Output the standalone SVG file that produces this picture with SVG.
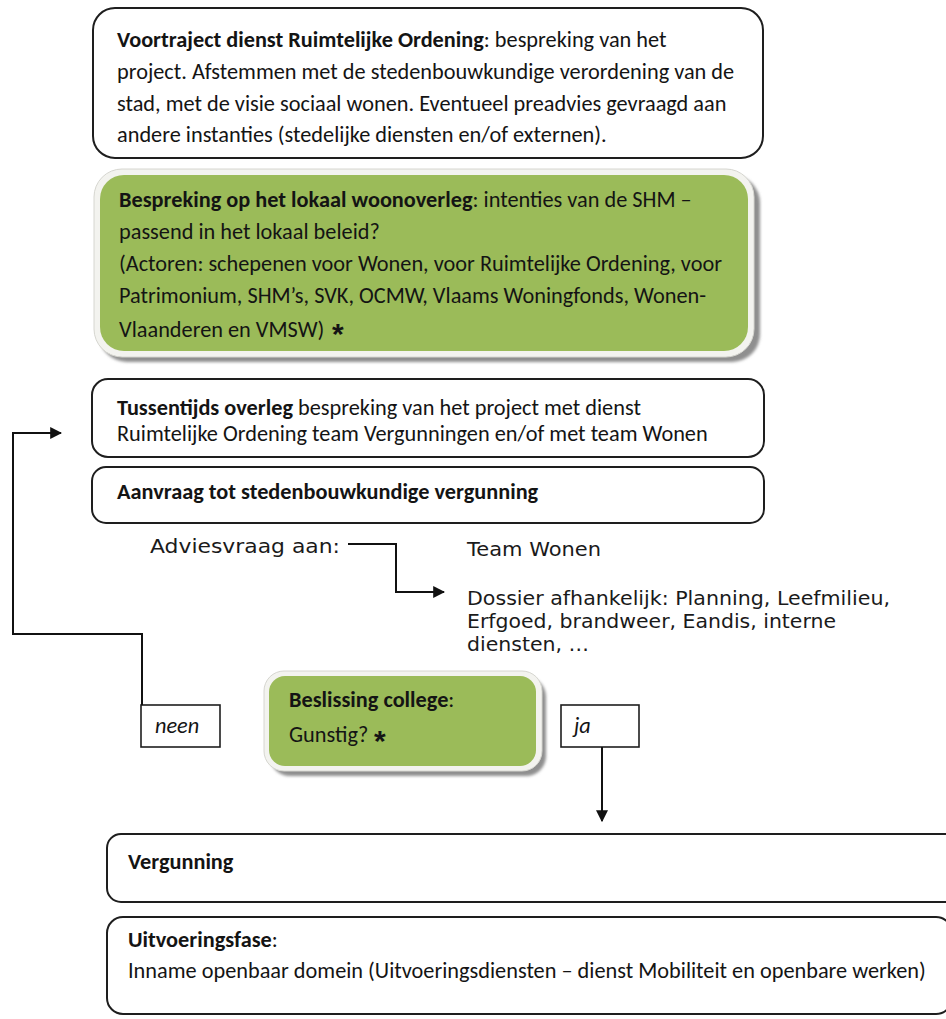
<svg xmlns="http://www.w3.org/2000/svg" width="946" height="1019" viewBox="0 0 946 1019">
  <style>
    .box { fill: #ffffff; stroke: #1e1e1e; stroke-width: 2; }
    .lbl { fill: #ffffff; stroke: #1e1e1e; stroke-width: 1.6; }
    .gshadow { fill: #8f8f8f; }
    .grim { fill: #f3f3ef; stroke: #d6d6d0; stroke-width: 1; }
    .green { fill: #9bbb59; }
    .t { font-family: "Carlito", "Lato", "Liberation Sans", sans-serif; font-size: 22.3px; fill: #141414; }
    .b { font-weight: bold; }
    .v { font-family: "DejaVu Sans", "Verdana", sans-serif; font-size: 20px; fill: #1a1a1a; }
    .i { font-style: italic; }
    .ast { font-family: "Liberation Sans", sans-serif; font-size: 30px; font-weight: bold; fill: #141414; }
    .wire { fill: none; stroke: #111111; stroke-width: 2; }
  </style>
  <defs>
    <marker id="arrow" viewBox="0 0 10 10" refX="9" refY="5" markerWidth="6" markerHeight="6" markerUnits="strokeWidth" orient="auto">
      <path d="M0,0 L10,5 L0,10 Z" fill="#111111"/>
    </marker>
    <filter id="soft" x="-5%" y="-5%" width="110%" height="115%">
      <feGaussianBlur stdDeviation="1.5"/>
    </filter>
  </defs>

  <rect width="946" height="1019" fill="#ffffff"/>

  <!-- Voortraject -->
  <g id="node-voortraject">
    <rect class="box" x="93" y="8" width="670" height="150" rx="22"/>
    <text class="t" x="117" y="47"><tspan class="b">Voortraject dienst Ruimtelijke Ordening</tspan>: bespreking van het</text>
    <text class="t" x="117" y="79">project. Afstemmen met de stedenbouwkundige verordening van de</text>
    <text class="t" x="117" y="111">stad, met de visie sociaal wonen. Eventueel preadvies gevraagd aan</text>
    <text class="t" x="117" y="142">andere instanties (stedelijke diensten en/of externen).</text>
  </g>

  <!-- Lokaal woonoverleg -->
  <g id="node-woonoverleg">
    <rect class="gshadow" x="99" y="175" width="661" height="187" rx="28" filter="url(#soft)"/>
    <rect class="grim" x="94" y="169" width="660" height="188" rx="28"/>
    <rect class="green" x="100" y="175" width="648" height="176" rx="24"/>
    <text class="t" x="119" y="207"><tspan class="b">Bespreking op het lokaal woonoverleg</tspan>: intenties van de SHM –</text>
    <text class="t" x="119" y="239">passend in het lokaal beleid?</text>
    <text class="t" x="119" y="271">(Actoren: schepenen voor Wonen, voor Ruimtelijke Ordening, voor</text>
    <text class="t" x="119" y="303">Patrimonium, SHM’s, SVK, OCMW, Vlaams Woningfonds, Wonen-</text>
    <text class="t" x="119" y="337">Vlaanderen en VMSW)</text>
    <text class="ast" x="332" y="344">*</text>
  </g>

  <!-- Tussentijds overleg -->
  <g id="node-tussentijds">
    <rect class="box" x="92" y="379" width="672" height="78" rx="16"/>
    <text class="t" x="117" y="415"><tspan class="b">Tussentijds overleg</tspan> bespreking van het project met dienst</text>
    <text class="t" x="117" y="441">Ruimtelijke Ordening team Vergunningen en/of met team Wonen</text>
  </g>

  <!-- Aanvraag -->
  <g id="node-aanvraag">
    <rect class="box" x="92" y="467" width="672" height="56" rx="14"/>
    <text class="t b" x="117" y="499">Aanvraag tot stedenbouwkundige vergunning</text>
  </g>

  <!-- Adviesvraag -->
  <g id="node-adviesvraag">
    <text class="v" x="150" y="553" textLength="190" lengthAdjust="spacingAndGlyphs">Adviesvraag aan:</text>
  </g>

  <g id="node-adviseurs">
    <text class="v" x="467" y="556" textLength="134" lengthAdjust="spacingAndGlyphs">Team Wonen</text>
    <text class="v" x="467" y="605" textLength="423" lengthAdjust="spacingAndGlyphs">Dossier afhankelijk: Planning, Leefmilieu,</text>
    <text class="v" x="467" y="628" textLength="369" lengthAdjust="spacingAndGlyphs">Erfgoed, brandweer, Eandis, interne</text>
    <text class="v" x="467" y="651" textLength="122" lengthAdjust="spacingAndGlyphs">diensten, …</text>
  </g>

  <!-- Beslissing college -->
  <g id="node-beslissing">
    <rect class="gshadow" x="270" y="677" width="276" height="99" rx="20" filter="url(#soft)"/>
    <rect class="grim" x="264" y="671" width="278" height="100" rx="20"/>
    <rect class="green" x="269" y="676" width="267" height="90" rx="16"/>
    <text class="t" x="289" y="707"><tspan class="b">Beslissing college</tspan>:</text>
    <text class="t" x="289" y="742">Gunstig?</text>
    <text class="ast" x="374" y="751">*</text>
  </g>

  <!-- Answer labels -->
  <g id="node-neen">
    <rect class="lbl" x="141" y="705" width="79" height="42"/>
    <text class="t i" x="155" y="733">neen</text>
  </g>
  <g id="node-ja">
    <rect class="lbl" x="561" y="705" width="78" height="42"/>
    <text class="t i" x="574" y="733">ja</text>
  </g>

  <!-- Vergunning -->
  <g id="node-vergunning">
    <rect class="box" x="107" y="834" width="860" height="68" rx="14"/>
    <text class="t b" x="128" y="869">Vergunning</text>
  </g>

  <!-- Uitvoeringsfase -->
  <g id="node-uitvoering">
    <rect class="box" x="107" y="917" width="845" height="97" rx="16"/>
    <text class="t" x="128" y="947"><tspan class="b">Uitvoeringsfase</tspan>:</text>
    <text class="t" x="128" y="978">Inname openbaar domein (Uitvoeringsdiensten – dienst Mobiliteit en openbare werken)</text>
  </g>

  <!-- Connectors -->
  <g id="connectors">
    <polyline class="wire" points="348,544 396,544 396,592 444,592" marker-end="url(#arrow)"/>
    <polyline class="wire" points="142,705 142,634 13,634 13,433 61,433" marker-end="url(#arrow)"/>
    <polyline class="wire" points="602,747 602,821" marker-end="url(#arrow)"/>
  </g>
</svg>
